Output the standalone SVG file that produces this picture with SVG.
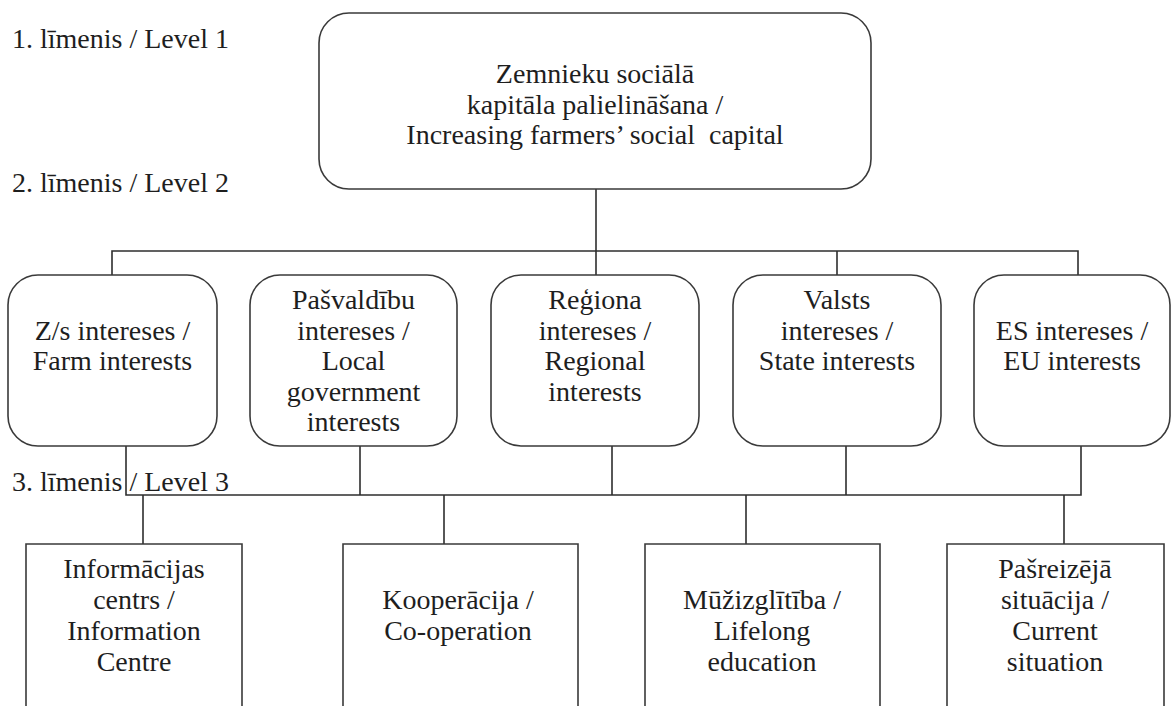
<svg xmlns="http://www.w3.org/2000/svg" width="1172" height="706" viewBox="0 0 1172 706">
<style>
.box{fill:#fff;stroke:#3a3a3a;stroke-width:1.6}
.ln{fill:none;stroke:#2e2e2e;stroke-width:1.6}
text{font-family:"Liberation Serif","Times New Roman",serif;font-size:28px;fill:#1e1e1e}
.c{text-anchor:middle}
</style>
<rect width="1172" height="706" fill="#fff"/>
<g id="labels">
<text x="12" y="48">1. līmenis / Level 1</text>
<text x="12" y="192">2. līmenis / Level 2</text>
<text x="12" y="491">3. līmenis / Level 3</text>
</g>
<g id="connectors">
<path class="ln" d="M596 189V275"/>
<path class="ln" d="M112 275V251H1078V275"/>
<path class="ln" d="M837 251V275"/>
<path class="ln" d="M126 446V495H1081V446"/>
<path class="ln" d="M360 446V495M612 446V495M846 446V495"/>
<path class="ln" d="M143 495V544M444 495V544M746 495V544M1064 495V544"/>
</g>
<g id="n-top">
<rect class="box" x="319" y="13" width="552" height="176" rx="30"/>
<text class="c" x="595" y="83">Zemnieku sociālā</text>
<text class="c" x="595" y="114">kapitāla palielināšana /</text>
<text class="c" x="595" y="144" xml:space="preserve">Increasing farmers’ social  capital</text>
</g>
<g id="n-farm">
<rect class="box" x="8" y="275" width="209" height="171" rx="30"/>
<text class="c" x="112.5" y="340">Z/s intereses /</text>
<text class="c" x="112.5" y="370">Farm interests</text>
</g>
<g id="n-local">
<rect class="box" x="250" y="275" width="207" height="171" rx="30"/>
<text class="c" x="353.5" y="309">Pašvaldību</text>
<text class="c" x="353.5" y="339.5">intereses /</text>
<text class="c" x="353.5" y="370">Local</text>
<text class="c" x="353.5" y="400.5">government</text>
<text class="c" x="353.5" y="431">interests</text>
</g>
<g id="n-region">
<rect class="box" x="491" y="275" width="208" height="171" rx="30"/>
<text class="c" x="595" y="309">Reģiona</text>
<text class="c" x="595" y="339.5">intereses /</text>
<text class="c" x="595" y="370">Regional</text>
<text class="c" x="595" y="400.5">interests</text>
</g>
<g id="n-state">
<rect class="box" x="733" y="275" width="208" height="171" rx="30"/>
<text class="c" x="837" y="309">Valsts</text>
<text class="c" x="837" y="339.5">intereses /</text>
<text class="c" x="837" y="370">State interests</text>
</g>
<g id="n-eu">
<rect class="box" x="974" y="275" width="196" height="171" rx="30"/>
<text class="c" x="1072" y="339.5">ES intereses /</text>
<text class="c" x="1072" y="370">EU interests</text>
</g>
<g id="n-info">
<path class="box" d="M26 710V544H242V710"/>
<text class="c" x="134" y="578">Informācijas</text>
<text class="c" x="134" y="609">centrs /</text>
<text class="c" x="134" y="640">Information</text>
<text class="c" x="134" y="671">Centre</text>
</g>
<g id="n-coop">
<path class="box" d="M343 710V544H578V710"/>
<text class="c" x="458" y="609">Kooperācija /</text>
<text class="c" x="458" y="640">Co-operation</text>
</g>
<g id="n-lifelong">
<path class="box" d="M645 710V544H880V710"/>
<text class="c" x="762" y="609">Mūžizglītība /</text>
<text class="c" x="762" y="640">Lifelong</text>
<text class="c" x="762" y="671">education</text>
</g>
<g id="n-current">
<path class="box" d="M947 710V544H1164V710"/>
<text class="c" x="1055" y="578">Pašreizējā</text>
<text class="c" x="1055" y="609">situācija /</text>
<text class="c" x="1055" y="640">Current</text>
<text class="c" x="1055" y="671">situation</text>
</g>
</svg>
